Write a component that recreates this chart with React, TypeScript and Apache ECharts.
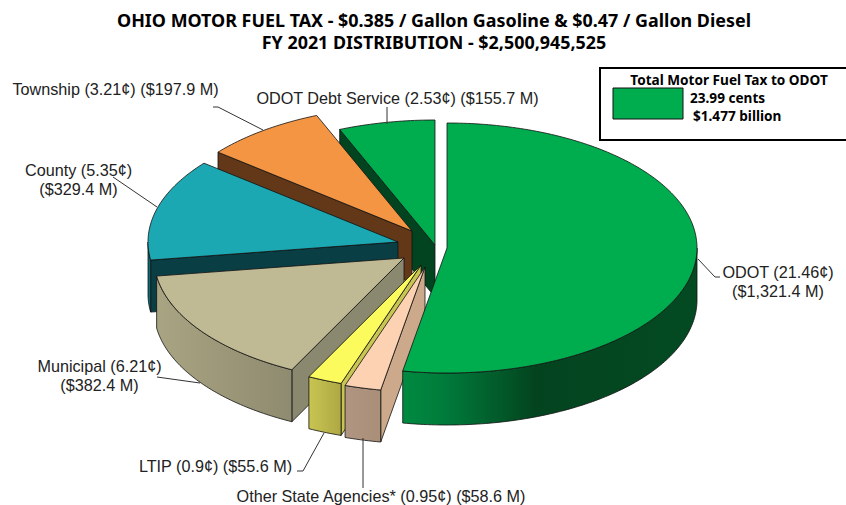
import React, { useEffect, useRef } from "react";
import * as echarts from "echarts";

const sliceNames = ["ODOT", "Other State Agencies*", "LTIP", "Municipal", "County", "Township", "ODOT Debt Service"];
const sliceCents = ["21.46", "0.95", "0.9", "6.21", "5.35", "3.21", "2.53"];
const sliceMillions = [1321.4, 58.6, 55.6, 382.4, 329.4, 197.9, 155.7];
const millionText = ["1,321.4", "58.6", "55.6", "382.4", "329.4", "197.9", "155.7"];

// Style and layout (not data)
const topColors = ["#00AD4E", "#FCD2B2", "#FBFB5E", "#BFB994", "#1BA8B2", "#F39543", "#00AD4E"];
const radialColors = ["#01441F", "#CBA98A", "#C8C552", "#8B8870", "#0A3E45", "#633819", "#01441F"];
const wallStops: [number, string][][] = [
  [[0, "#008A40"], [0.15, "#007A3A"], [0.45, "#03441F"], [1, "#034A22"]],
  [[0, "#B09682"], [1, "#A98E78"]],
  [[0, "#C8C552"], [1, "#AEA843"]],
  [[0, "#A9A482"], [0.5, "#9C9778"], [1, "#8F8B70"]],
  [[0, "#0C6A72"], [1, "#0C6A72"]],
  [[0, "#633819"], [1, "#633819"]],
  [[0, "#01441F"], [1, "#01441F"]],
];
const apexes = [[447, 248], [425, 267], [421, 265], [404, 258], [398, 242], [412, 231], [435, 245]];
const drawRank = [7, 6, 5, 4, 3, 2, 1];
const RX = 250, RY = 125, DEPTH = 52;

const labelLayout: { x: number; y: number; align: string; lines: number }[] = [
  { x: 778, y: 281, align: "center", lines: 2 },
  { x: 381, y: 496, align: "center", lines: 1 },
  { x: 215.5, y: 466, align: "center", lines: 1 },
  { x: 99.5, y: 375, align: "center", lines: 2 },
  { x: 78.5, y: 179, align: "center", lines: 2 },
  { x: 115.5, y: 89, align: "center", lines: 1 },
  { x: 397.5, y: 98, align: "center", lines: 1 },
];
const leaders = [
  [[698, 259], [715, 277], [720, 277]],
  [[363, 438], [363, 488]],
  [[324, 433], [303, 471], [297, 471]],
  [[157, 377], [200, 383]],
  [[113, 177], [157, 207]],
  [[213, 107], [218, 107], [263, 130]],
  [[387, 107], [387, 124]],
];

const titleLines = ["OHIO MOTOR FUEL TAX - $0.385 / Gallon Gasoline & $0.47 / Gallon Diesel", "FY 2021 DISTRIBUTION - $2,500,945,525"];
const legendLines = ["Total Motor Fuel Tax to ODOT", "23.99 cents", "$1.477 billion"];

const total = sliceMillions.reduce((a, b) => a + b, 0);
const angleEdges: number[] = [];
sliceMillions.reduce((acc, v, i) => {
  angleEdges[i] = acc;
  angleEdges[i + 1] = acc + (v / total) * Math.PI * 2;
  return angleEdges[i + 1];
}, 0);

function arc(cx: number, cy: number, a0: number, a1: number, dy = 0) {
  const n = Math.max(2, Math.ceil(Math.abs(a1 - a0) * 60));
  const pts: number[][] = [];
  for (let k = 0; k <= n; k++) {
    const a = a0 + ((a1 - a0) * k) / n;
    pts.push([cx + RX * Math.sin(a), cy - RY * Math.cos(a) + dy]);
  }
  return pts;
}

function renderSlice(params: any) {
  const i = params.dataIndex;
  const a0 = angleEdges[i], a1 = angleEdges[i + 1];
  const [cx, cy] = apexes[i];
  const rank = drawRank[i];
  const edge = { stroke: "#111", lineWidth: 0.8, lineJoin: "round" };
  const children: any[] = [];
  // radial wall on the start edge, visible on the left half
  if (Math.sin(a0) < -1e-6) {
    const p = [cx + RX * Math.sin(a0), cy - RY * Math.cos(a0)];
    children.push({
      type: "polygon",
      z2: rank * 10,
      shape: { points: [[cx, cy], p, [p[0], p[1] + DEPTH], [cx, cy + DEPTH]] },
      style: { fill: radialColors[i], ...edge },
    });
  }
  // outer curved wall, visible where the rim faces the viewer
  const w0 = Math.max(a0, Math.PI / 2), w1 = Math.min(a1, (Math.PI * 3) / 2);
  if (w1 > w0) {
    const top = arc(cx, cy, w0, w1);
    const bottom = arc(cx, cy, w1, w0, DEPTH);
    children.push({
      type: "polygon",
      z2: rank * 10 + 1,
      shape: { points: top.concat(bottom) },
      style: {
        fill: new echarts.graphic.LinearGradient(0, 0, 1, 0, wallStops[i].map(([offset, color]) => ({ offset, color }))),
        ...edge,
      },
    });
  }
  children.push({
    type: "polygon",
    z2: rank * 10 + 2,
    shape: { points: [[cx, cy], ...arc(cx, cy, a0, a1)] },
    style: { fill: topColors[i], ...edge },
  });
  return { type: "group", children };
}

function labelText(i: number) {
  const c = `(${sliceCents[i]}¢)`;
  const m = `($${millionText[i]} M)`;
  return labelLayout[i].lines === 2 ? `${sliceNames[i]} ${c}\n${m}` : `${sliceNames[i]} ${c} ${m}`;
}

export default function App() {
  const ref = useRef<HTMLDivElement>(null);
  useEffect(() => {
    document.body.style.margin = "0";
    const chart = echarts.init(ref.current!, undefined, { renderer: "svg" });
    const titleFont = '"Noto Sans", sans-serif';
    const legendFont = `bold 13.6px ${titleFont}`;
    const graphics: any[] = [];
    titleLines.forEach((t, k) => {
      graphics.push({
        type: "text",
        x: 434,
        y: 20 + k * 22,
        style: { text: t, font: `bold 17.9px ${titleFont}`, fill: "#000", textAlign: "center", textVerticalAlign: "middle" },
      });
    });
    graphics.push({
      type: "rect",
      shape: { x: 600, y: 68, width: 262, height: 72 },
      style: { fill: "#fff", stroke: "#000", lineWidth: 2 },
    });
    graphics.push({
      type: "rect",
      shape: { x: 613, y: 88, width: 70, height: 31 },
      style: { fill: "#00AD4E", stroke: "#111", lineWidth: 1 },
    });
    graphics.push({
      type: "text", x: 729, y: 79,
      style: { text: legendLines[0], font: legendFont, fill: "#000", textAlign: "center", textVerticalAlign: "middle" },
    });
    graphics.push({
      type: "text", x: 690, y: 97,
      style: { text: legendLines[1], font: legendFont, fill: "#000", textAlign: "left", textVerticalAlign: "middle" },
    });
    graphics.push({
      type: "text", x: 693, y: 115,
      style: { text: legendLines[2], font: legendFont, fill: "#000", textAlign: "left", textVerticalAlign: "middle" },
    });
    leaders.forEach((pts) => {
      graphics.push({
        type: "polyline",
        shape: { points: pts },
        style: { stroke: "#333", lineWidth: 1, fill: "none" },
        z: 4,
      });
    });
    labelLayout.forEach((l, i) => {
      graphics.push({
        type: "text",
        x: l.x,
        y: l.y,
        z: 5,
        style: {
          text: labelText(i),
          font: '16.2px "Liberation Sans", Arial, sans-serif',
          lineHeight: 19,
          fill: "#222",
          textAlign: l.align,
          textVerticalAlign: "middle",
        },
      });
    });
    chart.setOption({
      animation: false,
      backgroundColor: "#fff",
      graphic: graphics,
      series: [
        {
          type: "custom",
          coordinateSystem: "none",
          silent: true,
          clip: false,
          data: sliceMillions,
          renderItem: renderSlice,
        },
      ],
    });
    return () => chart.dispose();
  }, []);
  return <div ref={ref} style={{ width: 846, height: 505 }} />;
}
